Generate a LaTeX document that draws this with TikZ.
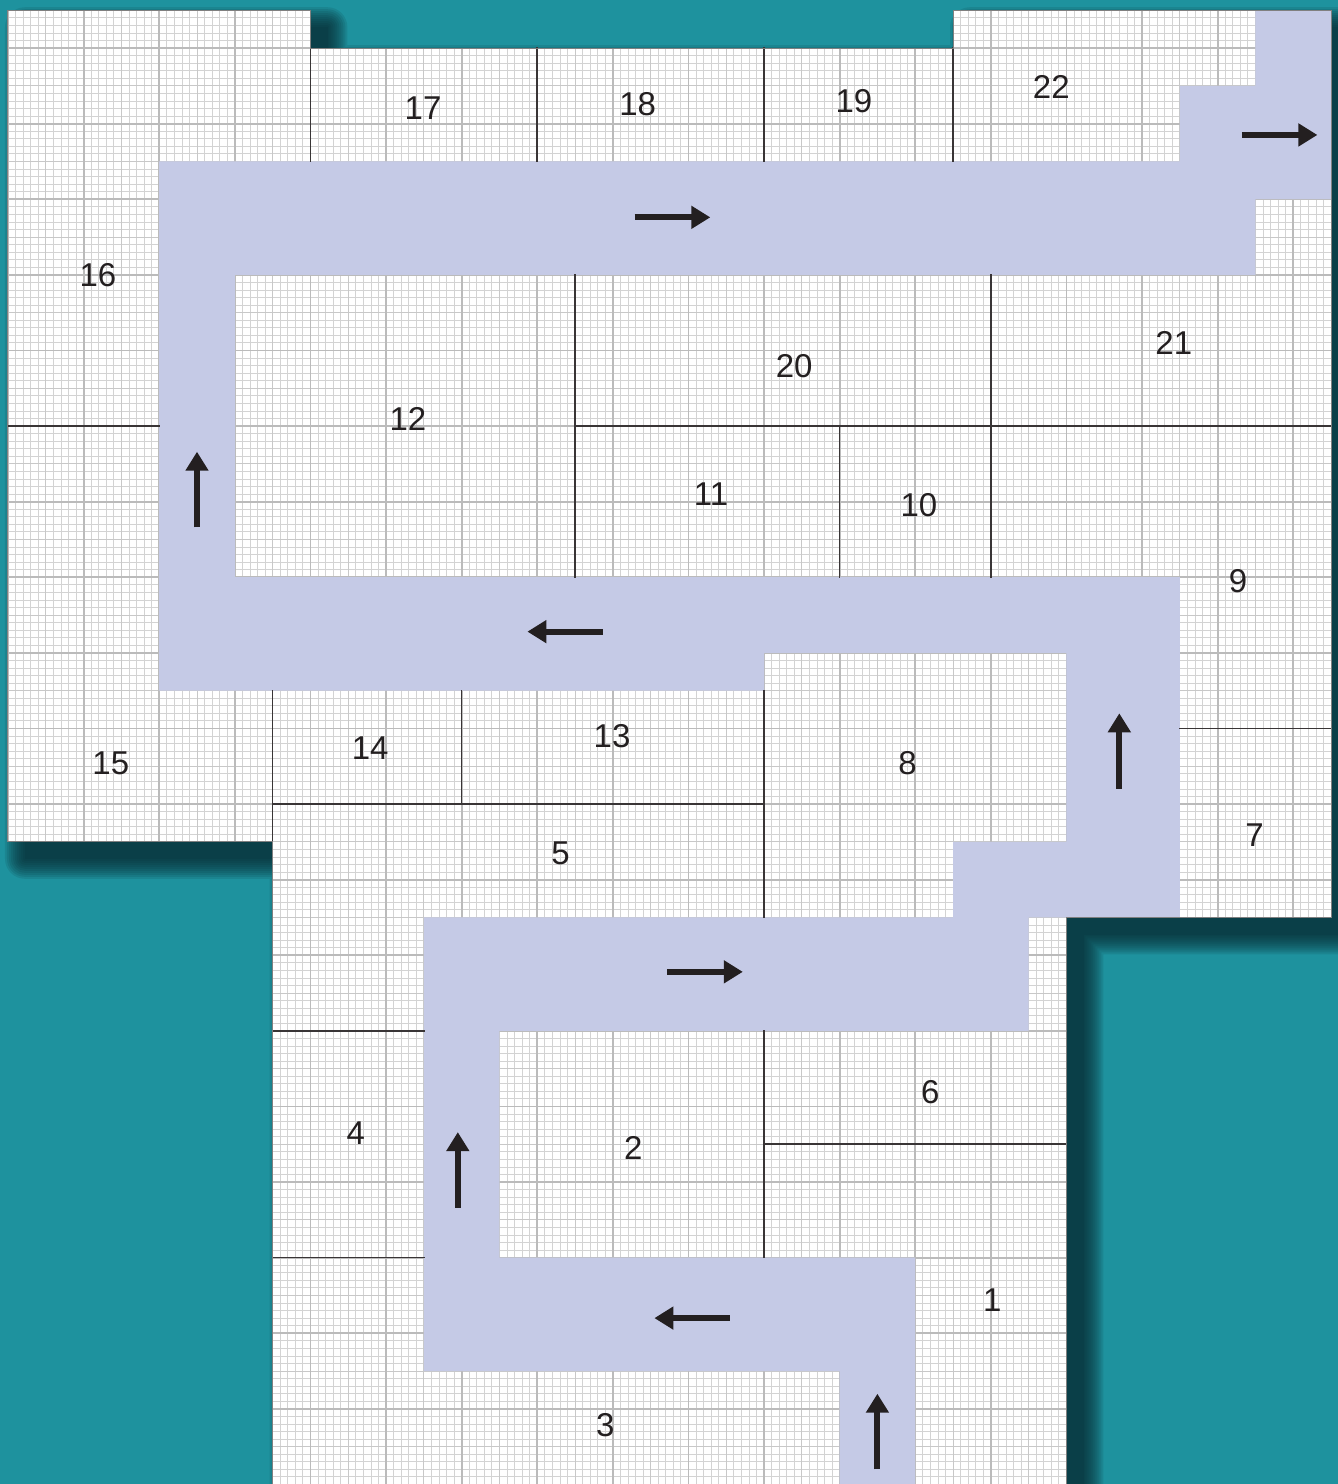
\documentclass[tikz,border=0pt]{standalone}
\usepackage{fontspec}
\setmainfont{Liberation Sans}
\usetikzlibrary{arrows.meta}
\definecolor{bgteal}{HTML}{1E929E}
\definecolor{shad}{HTML}{072A30}
\definecolor{lav}{HTML}{C5CAE6}
\definecolor{fineg}{HTML}{D3D3D3}
\definecolor{midg}{HTML}{C8C8C8}
\definecolor{majg}{HTML}{BBBBBB}
\definecolor{ink}{HTML}{231F20}
\def\paper{(0,-0.5) -- (4,-0.5) -- (4,0) -- (12.5,0) -- (12.5,-0.5) -- (17.5,-0.5) -- (17.5,11.5) -- (14,11.5) -- (14,19) -- (3.5,19) -- (3.5,10.5) -- (0,10.5) -- cycle}
\begin{document}
\begin{tikzpicture}[x=75.6pt,y=-75.6pt,
  wall/.style={draw=ink!90, line width=1.6pt, line cap=rect},
  lbl/.style={font=\fontsize{33}{33}\selectfont, text=ink, inner sep=0pt},
  flow/.style={draw=ink, line width=6pt, -{Triangle[width=22pt,length=19pt]}},
]
% background
\path[use as bounding box, fill=bgteal] (-0.10582,-0.63492) rectangle (17.5926,18.9947);
% soft shadow
\foreach \r in {0,4,...,40}{
  \begin{scope}[transparency group, opacity=0.12, shift={(17pt,-17pt)}]
    \fill[shad, draw=shad, line width=\r pt, line join=round] \paper;
  \end{scope}
}
% paper
\fill[white] \paper;
\begin{scope}
  \clip \paper;
  \draw[fineg, line width=0.75pt, xstep=7.56pt, ystep=7.56pt] (-1,20) grid (18,-1);
  \draw[midg, line width=0.9pt, xstep=37.8pt, ystep=37.8pt] (-1,20) grid (18,-1);
  \draw[majg, line width=1.8pt, xstep=75.6pt, ystep=75.6pt] (-1,20) grid (18,-1);
\end{scope}
% corridor
\fill[lav] (11,19.1) -- (11,17.5) -- (5.5,17.5) -- (5.5,11.5) -- (12.5,11.5) -- (12.5,10.5) -- (14,10.5) -- (14,8) -- (10,8) -- (10,8.5) -- (2,8.5) -- (2,1.5) -- (15.5,1.5) -- (15.5,0.5) -- (16.5,0.5) -- (16.5,-0.5) -- (17.5,-0.5) -- (17.5,2) -- (16.5,2) -- (16.5,3) -- (3,3) -- (3,7) -- (15.5,7) -- (15.5,11.5) -- (13.5,11.5) -- (13.5,13) -- (6.5,13) -- (6.5,16) -- (12,16) -- (12,19.1) -- cycle;
% walls
\draw[wall] (4,0) -- (4,1.5);
\draw[wall] (7,0) -- (7,1.5);
\draw[wall] (10,0) -- (10,1.5);
\draw[wall] (12.5,0) -- (12.5,1.5);
\draw[wall] (0,5) -- (2,5);
\draw[wall] (7.5,3) -- (7.5,7);
\draw[wall] (7.5,5) -- (17.5,5);
\draw[wall] (11,5) -- (11,7);
\draw[wall] (13,3) -- (13,7);
\draw[wall] (15.5,9) -- (17.5,9);
\draw[wall] (3.5,8.5) -- (3.5,10.5);
\draw[wall] (6,8.5) -- (6,10);
\draw[wall] (3.5,10) -- (10,10);
\draw[wall] (10,8.5) -- (10,11.5);
\draw[wall] (3.5,13) -- (5.5,13);
\draw[wall] (3.5,16) -- (5.5,16);
\draw[wall] (10,13) -- (10,16);
\draw[wall] (10,14.5) -- (14,14.5);
% outline
\draw[black!50, line width=1pt] \paper;
% labels
\node[lbl] (r17) at (5.49,0.79) {17};
\node[lbl] (r18) at (8.33,0.74) {18};
\node[lbl] (r19) at (11.19,0.70) {19};
\node[lbl] (r22) at (13.80,0.52) {22};
\node[lbl] (r16) at (1.19,3.0) {16};
\node[lbl] (r12) at (5.29,4.91) {12};
\node[lbl] (r20) at (10.40,4.21) {20};
\node[lbl] (r21) at (15.42,3.90) {21};
\node[lbl] (r11) at (9.30,5.90) {11};
\node[lbl] (r10) at (12.05,6.05) {10};
\node[lbl] (r9) at (16.27,7.05) {9};
\node[lbl] (r15) at (1.36,9.46) {15};
\node[lbl] (r14) at (4.79,9.26) {14};
\node[lbl] (r13) at (7.99,9.10) {13};
\node[lbl] (r8) at (11.90,9.46) {8};
\node[lbl] (r7) at (16.49,10.41) {7};
\node[lbl] (r5) at (7.31,10.65) {5};
\node[lbl] (r6) at (12.20,13.81) {6};
\node[lbl] (r4) at (4.60,14.35) {4};
\node[lbl] (r2) at (8.27,14.55) {2};
\node[lbl] (r1) at (13.02,16.56) {1};
\node[lbl] (r3) at (7.90,18.21) {3};
% arrows
\coordinate (a1s) at (11.5,18.8);  \coordinate (a1e) at (11.5,17.8);
\coordinate (a2s) at (9.55,16.8);  \coordinate (a2e) at (8.55,16.8);
\coordinate (a3s) at (5.95,15.34); \coordinate (a3e) at (5.95,14.34);
\coordinate (a4s) at (8.72,12.22); \coordinate (a4e) at (9.72,12.22);
\coordinate (a5s) at (14.7,9.8);   \coordinate (a5e) at (14.7,8.8);
\coordinate (a6s) at (7.87,7.72);  \coordinate (a6e) at (6.87,7.72);
\coordinate (a7s) at (2.5,6.34);   \coordinate (a7e) at (2.5,5.34);
\coordinate (a8s) at (8.29,2.24);  \coordinate (a8e) at (9.29,2.24);
\coordinate (a9s) at (16.32,1.15); \coordinate (a9e) at (17.32,1.15);
\foreach \i in {1,...,9}{ \draw[flow] (a\i s) -- (a\i e); }
\end{tikzpicture}
\end{document}
